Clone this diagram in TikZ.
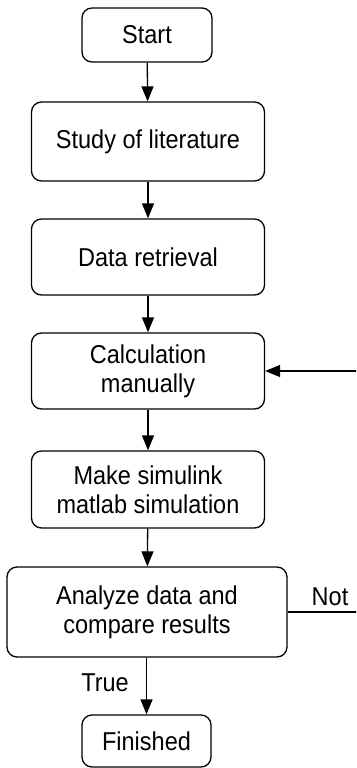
\documentclass[tikz,border=0pt]{standalone}
\usepackage{fontspec}
\setmainfont{Liberation Sans}
\usetikzlibrary{arrows.meta}
\newcommand\vs[1]{\scalebox{1}[1.1]{#1}}
\begin{document}
\begin{tikzpicture}[x=1pt,y=-1pt,
  box/.style={draw, line width=1.3pt, rounded corners=10pt, align=center, inner sep=0pt,
    font=\fontsize{23.5}{29}\selectfont},
  lbl/.style={font=\fontsize{23.5}{29}\selectfont, inner sep=0pt},
  conn/.style={line width=1.3pt, -{Triangle[length=15pt,width=12pt]}}]
\clip (0,0) rectangle (356,768);
\useasboundingbox (0,0) rectangle (356,768);
\node[box, minimum width=130pt, minimum height=54pt] (start) at (147,35) {\vs{Start}};
\node[box, minimum width=233pt, minimum height=79pt] (study) at (148,141.5) {\vs{Study of literature}};
\node[box, minimum width=233pt, minimum height=76pt] (data) at (148,257) {\vs{Data retrieval}};
\node[box, minimum width=233pt, minimum height=76pt] (calc) at (148,371) {\vs{Calculation}\\\vs{manually}};
\node[box, minimum width=233pt, minimum height=77pt] (make) at (148,489.5) {\vs{Make simulink}\\\vs{matlab simulation}};
\node[box, minimum width=280pt, minimum height=90pt] (analyze) at (147,612) {\vs{Analyze data and}\\\vs{compare results}};
\node[box, minimum width=129pt, minimum height=52pt] (fin) at (146.5,741) {\vs{Finished}};
\draw[conn] (start) -- (study);
\draw[conn] (study) -- (data);
\draw[conn] (data) -- (calc);
\draw[conn] (calc) -- (make);
\draw[conn] (make) -- (analyze);
\draw[conn] (analyze.south -| fin.north) -- (fin.north);
\draw[conn] (analyze.east) -- ++(75,0) |- (calc.east);
\node[lbl] (not) at (330,597) {\vs{Not}};
\node[lbl] (true) at (105,683) {\vs{True}};
\end{tikzpicture}
\end{document}
